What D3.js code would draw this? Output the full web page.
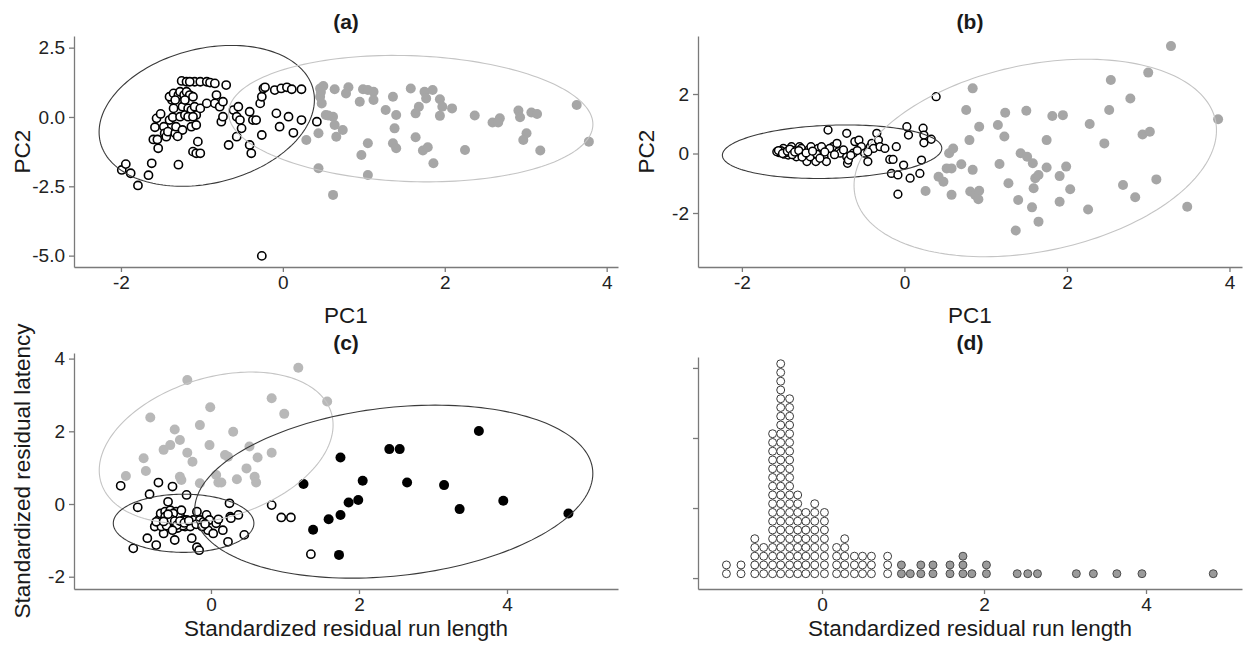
<!DOCTYPE html>
<html>
<head>
<meta charset="utf-8">
<script src="https://cdnjs.cloudflare.com/ajax/libs/d3/7.8.5/d3.min.js"></script>
<style>
  body { margin: 0; background: #fff; }
</style>
</head>
<body>
<div id="chart"></div>
<script>

// ---------------- data ----------------

// (a) PCA, open = cluster 1, grey = cluster 2
const pcaOpen = [
  [-1.99,-1.91],[-1.94,-1.70],[-1.88,-2.03],[-1.79,-2.47],[-1.66,-2.10],[-1.62,-1.67],[-1.29,-1.72],
  [-1.60,-0.81],[-1.55,-0.81],[-1.54,-1.13],[-1.58,-0.37],[-1.56,-0.05],[-1.51,0.11],[-1.47,-0.35],
  [-1.46,-0.59],[-1.44,-0.71],[-1.42,-0.53],[-1.40,-0.11],[-1.36,-0.01],[-1.33,-0.59],[-1.32,-0.35],
  [-1.35,0.31],[-1.37,0.61],[-1.40,0.73],[-1.35,0.85],[-1.29,0.79],[-1.27,0.91],[-1.25,1.30],
  [-1.22,0.79],[-1.19,0.91],[-1.15,0.79],[-1.11,0.73],[-1.09,1.27],[-1.02,1.27],[-0.94,1.27],
  [-0.90,1.24],[-0.84,1.21],[-0.70,1.15],[-1.24,0.37],[-1.21,0.61],[-1.17,0.31],[-1.13,0.25],
  [-1.09,0.37],[-1.07,0.07],[-1.02,0.31],[-1.13,-0.35],[-1.07,-0.29],[-1.05,-0.89],[-1.11,-1.25],
  [-1.07,-1.31],[-1.02,-1.31],[-0.94,0.49],[-0.84,0.49],[-0.82,0.79],[-0.78,0.37],[-0.74,0.55],
  [-0.76,-0.17],[-0.74,0.01],[-0.67,-1.01],[-0.61,0.25],[-0.57,0.01],[-0.55,0.37],[-0.53,-0.11],
  [-0.51,-0.41],[-0.57,-0.71],[-0.41,0.19],[-0.37,-0.11],[-0.33,-0.11],[-0.41,-1.01],[-0.39,-1.31],
  [-0.28,0.49],[-0.26,0.73],[-0.26,-0.65],[-0.24,1.03],[-0.22,1.07],[-0.10,0.97],[-0.02,1.03],
  [0.05,1.07],[0.11,1.00],[0.23,1.00],[-0.08,0.13],[-0.04,-0.35],[0.07,0.01],[0.13,-0.57],
  [0.23,-0.11],[0.42,-0.17],[-0.26,-5.01],[-1.27,0.01],[-1.21,0.07],[-1.17,0.01],[-1.11,0.01],
  [-1.24,-0.47],[-1.30,-0.70],[-1.33,0.61],[-1.19,1.27],[-1.15,1.27]
];
const pcaGrey = [
  [0.29,-0.83],[0.44,-1.85],[0.44,-0.59],[0.46,1.03],[0.50,1.12],[0.46,0.73],[0.48,0.49],[0.53,0.07],
  [0.62,0.01],[0.64,-0.29],[0.74,-0.47],[0.66,-0.71],[0.64,1.00],[0.78,0.85],[0.81,1.07],[0.62,-2.81],
  [0.95,0.55],[0.99,1.00],[1.05,0.97],[1.12,0.91],[1.12,0.61],[1.05,-0.95],[0.97,-1.37],[1.05,-2.09],
  [1.27,0.25],[1.36,0.73],[1.40,0.07],[1.38,-0.41],[1.36,-0.95],[1.40,-1.13],[1.58,1.03],[1.64,0.13],
  [1.68,0.37],[1.64,-0.73],[1.75,0.91],[1.77,0.67],[1.85,0.97],[1.73,-1.21],[1.79,-1.09],[1.86,-1.67],
  [1.94,0.64],[1.97,0.37],[1.94,0.04],[2.09,0.31],[2.25,-1.19],[2.37,0.05],[2.59,-0.20],[2.68,-0.05],
  [2.66,-0.20],[2.91,0.23],[2.93,-0.01],[3.01,-0.59],[2.97,-0.83],[3.07,0.16],[3.14,0.11],[3.18,-1.21],
  [3.63,0.43],[3.78,-0.89],[0.47,0.90],[0.56,0.05]
];

// (b) PCA after re-clustering
const pc2Open = [
  [-1.54,0.03],[-1.51,0.06],[-1.48,-0.02],[-1.45,0.12],[-1.43,-0.05],[-1.40,0.06],[-1.37,0.03],
  [-1.34,0.14],[-1.31,-0.02],[-1.29,0.23],[-1.25,0.06],[-1.22,-0.11],[-1.20,-0.27],[-1.18,0.12],
  [-1.15,0.23],[-1.12,-0.05],[-1.09,-0.27],[-1.06,0.17],[-1.02,0.23],[-0.99,-0.11],[-0.96,-0.27],
  [-0.94,0.79],[-0.88,0.23],[-0.83,0.34],[-0.81,0.06],[-0.79,0.01],[-0.71,0.68],[-0.71,-0.11],
  [-0.70,-0.33],[-0.69,-0.22],[-0.63,0.01],[-0.61,0.40],[-0.56,0.45],[-0.53,0.23],[-0.49,0.01],
  [-0.45,-0.27],[-0.42,0.23],[-0.40,0.34],[-0.38,0.17],[-0.34,0.68],[-0.32,0.45],[-0.30,0.23],
  [-0.24,0.17],[-0.18,-0.20],[-0.16,-0.67],[-0.14,-0.20],[-0.10,0.23],[-0.08,-1.37],[-0.08,-0.72],
  [-0.01,-0.39],[0.03,0.90],[0.05,0.62],[0.07,-0.83],[0.19,-0.67],[0.21,-0.22],[0.23,0.85],
  [0.24,0.62],[0.24,0.36],[0.33,0.48],[0.39,1.91],[-1.57,0.06],[-1.49,0.17],[-1.39,0.23],
  [-1.33,-0.11],[-1.27,0.17],[-1.16,-0.11],[-1.08,-0.02],[-1.04,-0.16],[-0.92,0.17],[-1.52,0.10],
  [-1.46,0.03],[-1.36,0.10],[-1.28,0.02],[-1.24,-0.05],[-1.55,0.10],[-1.50,0.00],[-1.44,0.08],
  [-1.41,0.15],[-1.38,-0.04],[-1.35,0.05],[-1.30,0.10],[-1.26,-0.12],[-1.21,0.02],[-1.13,0.08],
  [-0.98,0.05],[-0.86,-0.04],[-0.75,0.12],[-0.66,-0.06],[-0.58,0.10],[-0.45,0.05]
];
const pc2Grey = [
  [0.26,-1.26],[0.42,-0.78],[0.48,-0.95],[0.52,-0.50],[0.58,-0.50],[0.55,0.01],[0.60,0.17],[0.58,-1.39],
  [0.70,-0.36],[0.76,1.46],[0.80,0.45],[0.84,-0.55],[0.84,2.19],[0.81,-1.28],[0.87,-1.39],[0.92,-1.25],
  [0.91,-1.54],[0.92,0.90],[1.15,0.96],[1.17,-0.35],[1.23,0.57],[1.24,1.37],[1.28,-1.00],[1.37,-2.59],
  [1.40,-1.56],[1.43,0.01],[1.50,1.44],[1.51,-0.11],[1.57,-1.81],[1.58,-0.33],[1.59,-1.17],[1.61,-0.83],
  [1.65,-0.72],[1.65,-2.29],[1.75,0.45],[1.75,-0.47],[1.82,1.26],[1.91,-0.76],[1.91,-1.62],[1.95,1.29],
  [1.99,-0.44],[2.04,-1.20],[2.26,-1.88],[2.28,0.99],[2.46,0.34],[2.52,1.46],[2.54,2.47],[2.69,-1.06],
  [2.78,1.85],[2.84,-1.47],[2.93,0.64],[3.00,2.72],[3.02,0.73],[3.10,-0.87],[3.28,3.61],[3.48,-1.79],
  [3.86,1.15]
];

// (c) standardized residuals
const resOpen = [
  [-1.22,0.50],[-1.05,-1.22],[-0.99,-0.09],[-0.86,-0.94],[-0.83,0.27],[-0.76,-0.62],[-0.74,-1.13],
  [-0.71,0.59],[-0.70,-0.42],[-0.68,-0.26],[-0.65,-0.53],[-0.64,-0.81],[-0.62,-0.21],[-0.60,-0.44],
  [-0.58,0.06],[-0.55,-0.35],[-0.55,-0.17],[-0.53,-0.53],[-0.52,0.48],[-0.51,-0.67],[-0.50,-0.35],
  [-0.49,-0.99],[-0.47,-0.21],[-0.46,-0.49],[-0.44,-0.39],[-0.43,-0.62],[-0.42,-0.30],[-0.40,-0.53],
  [-0.37,-0.44],[-0.35,-0.62],[-0.33,0.25],[-0.33,-0.44],[-0.31,-0.53],[-0.28,-0.62],[-0.26,-0.94],
  [-0.24,-0.44],[-0.19,-0.21],[-0.19,-1.19],[-0.16,-1.27],[-0.15,-0.44],[-0.10,-0.49],[-0.06,-0.30],
  [-0.04,-0.72],[-0.02,-0.44],[0.03,-0.81],[0.07,-0.53],[0.16,-0.72],[0.23,-1.04],[0.25,0.02],
  [0.26,-0.35],[0.27,-0.39],[0.37,-0.30],[0.45,-0.85],[0.82,-0.03],[0.95,-0.37],[1.08,-0.37],
  [1.35,-1.38],[-0.62,-0.35],[-0.58,-0.58],[-0.51,-0.26],[-0.40,-0.17],[-0.67,-0.62],[-0.74,-0.49],
  [-0.56,-0.47],[-0.48,-0.56],[-0.45,-0.66],[-0.38,-0.60],[-0.60,-0.60],[-0.54,-0.42],[-0.49,-0.47],
  [-0.46,-0.58],[-0.42,-0.47],[-0.36,-0.52],[-0.30,-0.46],[-0.52,-0.72],[-0.64,-0.48],[-0.58,-0.28],
  [-0.20,-0.56],[-0.12,-0.62],[0.10,-0.42],[-0.08,-0.55]
];
const resGrey = [
  [-1.15,0.77],[-0.88,0.91],[-0.82,2.38],[-0.91,1.26],[-0.64,1.49],[-0.55,1.62],[-0.49,2.05],
  [-0.42,1.76],[-0.42,0.75],[-0.40,0.66],[-0.32,3.41],[-0.32,1.41],[-0.25,1.16],[-0.15,2.17],
  [-0.15,0.57],[-0.02,1.62],[-0.01,2.66],[0.07,0.80],[0.10,0.59],[0.14,0.59],[0.19,1.35],
  [0.30,1.99],[0.23,1.30],[0.35,0.68],[0.48,0.98],[0.52,1.58],[0.59,0.75],[0.61,0.59],
  [0.63,1.28],[0.82,2.91],[0.82,1.41],[0.99,2.48],[1.18,3.75],[1.57,2.82]
];
const resBlack = [
  [1.25,0.55],[1.38,-0.71],[1.59,-0.42],[1.75,1.28],[1.75,-0.30],[1.73,-1.40],[1.86,0.04],
  [1.99,0.11],[2.05,0.64],[2.41,1.51],[2.55,1.51],[2.65,0.59],[3.15,0.52],[3.36,-0.14],
  [3.62,2.01],[3.95,0.09],[4.83,-0.26]
];

// (d) dot plot of run length: [bin centre, dots in stack]
const dotBinsOpen = [
  [-1.18,2],[-1.00,2],[-0.83,5],[-0.72,4],[-0.61,17],[-0.51,25],[-0.40,21],[-0.30,10],[-0.20,8],
  [-0.09,9],[0.03,8],[0.18,4],[0.28,5],[0.40,3],[0.50,3],[0.61,3],[0.81,3]
];
const dotBinsGrey = [
  [0.98,2],[1.09,1],[1.22,2],[1.37,2],[1.58,2],[1.74,3],[1.85,1],[2.03,2],[2.41,1],[2.54,1],
  [2.66,1],[3.14,1],[3.35,1],[3.64,1],[3.95,1],[4.83,1]
];
const dotBinwidth = 0.108;

// 95% ellipses: centre, half extents and correlation
const ellipsesA = [
  {cx: -0.94, cy: 0.04, rx: 1.33, ry: 2.54, rho: 0.23, tone: "dark"},
  {cx: 1.58, cy: -0.06, rx: 2.25, ry: 2.28, rho: -0.09, tone: "light"}
];
const ellipsesB = [
  {cx: -0.89, cy: 0.06, rx: 1.35, ry: 0.90, rho: 0.13, tone: "dark"},
  {cx: 1.61, cy: -0.15, rx: 2.23, ry: 3.32, rho: 0.28, tone: "light"}
];
const ellipsesC = [
  {cx: 0.07, cy: 1.55, rx: 1.58, ry: 2.08, rho: 0.30, tone: "light"},
  {cx: -0.37, cy: -0.53, rx: 0.95, ry: 0.80, rho: 0.0, tone: "dark"},
  {cx: 2.47, cy: 0.34, rx: 2.69, ry: 2.38, rho: 0.21, tone: "dark"}
];

// ticks
const pcaXTicks = [-2, 0, 2, 4];
const pcaYTicks = [-5, -2.5, 0, 2.5];
const pc2YTicks = [-2, 0, 2];
const resXTicks = [0, 2, 4];
const resYTicks = [-2, 0, 2, 4];
const dotYTicks = [0, 0.25, 0.5, 0.75];

// ---------------- setup ----------------

const W = 1244, H = 646;
const font = "'Liberation Sans', Arial, Helvetica, sans-serif";

const svg = d3.select("#chart").append("svg")
    .attr("width", W)
    .attr("height", H)
    .style("font-family", font)
    .style("background", "#fff");

const intFmt = d => String(d);
const oneDec = d => d.toFixed(1);
const noLab = () => "";

function makePanel(p) {
  const x = d3.scaleLinear().domain(p.xlim).range([p.left, p.right]);
  const y = d3.scaleLinear().domain(p.ylim).range([p.bottom, p.top]);

  let gx = svg.append("g")
      .attr("transform", "translate(0," + p.bottom + ")")
      .call(d3.axisBottom(x).tickValues(p.xticks).tickFormat(intFmt)
            .tickSize(5).tickSizeOuter(0).tickPadding(4));
  let gy = svg.append("g")
      .attr("transform", "translate(" + p.left + ",0)")
      .call(d3.axisLeft(y).tickValues(p.yticks).tickFormat(p.yfmt)
            .tickSize(5).tickSizeOuter(0).tickPadding(4));

  [gx, gy].forEach(g => {
    g.select(".domain").attr("stroke", "#7a7a7a").attr("stroke-width", 1.3);
    g.selectAll(".tick line").attr("stroke", "#7a7a7a").attr("stroke-width", 1.3);
    g.selectAll(".tick text")
        .attr("fill", "#222")
        .style("font-size", "19px")
        .style("font-family", font);
  });

  // panel title
  svg.append("text")
      .attr("x", (p.left + p.right) / 2)
      .attr("y", p.titleY)
      .attr("text-anchor", "middle")
      .style("font-size", "21px")
      .style("font-weight", "bold")
      .attr("fill", "#1a1a1a")
      .text(p.title);

  if (p.xlab) {
    svg.append("text")
        .attr("x", (p.left + p.right) / 2)
        .attr("y", p.xlabY)
        .attr("text-anchor", "middle")
        .style("font-size", "22.5px")
        .attr("fill", "#1a1a1a")
        .text(p.xlab);
  }
  if (p.ylab) {
    svg.append("text")
        .attr("transform", "translate(" + p.ylabX + "," + (p.top + p.bottom) / 2 + ") rotate(-90)")
        .attr("text-anchor", "middle")
        .style("font-size", "22.5px")
        .attr("fill", "#1a1a1a")
        .text(p.ylab);
  }
  return {x, y};
}

function drawPoints(sc, data, fill, stroke, r, sw) {
  svg.append("g").selectAll("circle")
    .data(data)
    .join("circle")
      .attr("cx", d => sc.x(d[0]))
      .attr("cy", d => sc.y(d[1]))
      .attr("r", r)
      .attr("fill", fill)
      .attr("stroke", stroke)
      .attr("stroke-width", sw);
}

function drawEllipses(sc, list) {
  const ts = d3.range(0, 2 * Math.PI, Math.PI / 90);
  const line = d3.line().curve(d3.curveLinearClosed);
  list.forEach(e => {
    const s = Math.sqrt(1 - e.rho * e.rho);
    const pts = ts.map(t => [
      sc.x(e.cx + e.rx * Math.cos(t)),
      sc.y(e.cy + e.ry * (e.rho * Math.cos(t) + s * Math.sin(t)))
    ]);
    svg.append("path")
        .attr("d", line(pts))
        .attr("fill", "none")
        .attr("stroke", e.tone == "dark" ? "#3a3a3a" : "#c4c4c4")
        .attr("stroke-width", 1.1);
  });
}

// ---------------- panel (a) ----------------
let scA = makePanel({
  left: 74, right: 618, top: 36, bottom: 267,
  xlim: [-2.58, 4.14], ylim: [-5.41, 2.92],
  xticks: pcaXTicks, yticks: pcaYTicks, yfmt: oneDec,
  title: "(a)", titleY: 29,
  xlab: "PC1", xlabY: 323, ylab: "PC2", ylabX: 30
});
drawPoints(scA, pcaGrey, "#a6a6a6", "none", 5.0, 0);
drawPoints(scA, pcaOpen, "#fff", "#000", 4.1, 1.6);
drawEllipses(scA, ellipsesA);

// ---------------- panel (b) ----------------
let scB = makePanel({
  left: 698, right: 1242, top: 36, bottom: 267,
  xlim: [-2.54, 4.154], ylim: [-3.815, 3.95],
  xticks: pcaXTicks, yticks: pc2YTicks, yfmt: intFmt,
  title: "(b)", titleY: 29,
  xlab: "PC1", xlabY: 323, ylab: "PC2", ylabX: 654
});
drawPoints(scB, pc2Grey, "#a6a6a6", "none", 5.0, 0);
drawPoints(scB, pc2Open, "#fff", "#000", 3.9, 1.5);
drawEllipses(scB, ellipsesB);

// ---------------- panel (c) ----------------
let scC = makePanel({
  left: 74, right: 618, top: 353, bottom: 589,
  xlim: [-1.851, 5.50], ylim: [-2.338, 4.154],
  xticks: resXTicks, yticks: resYTicks, yfmt: intFmt,
  title: "(c)", titleY: 350,
  xlab: "Standardized residual run length", xlabY: 636,
  ylab: "Standardized residual latency", ylabX: 30
});
drawPoints(scC, resGrey, "#b8b8b8", "none", 5.0, 0);
drawPoints(scC, resOpen, "#fff", "#000", 4.1, 1.6);
drawPoints(scC, resBlack, "#000", "none", 5.0, 0);
drawEllipses(scC, ellipsesC);

// ---------------- panel (d) ----------------
let scD = makePanel({
  left: 698, right: 1242, top: 357, bottom: 589,
  xlim: [-1.531, 5.185], ylim: [-0.039, 0.789],
  xticks: resXTicks, yticks: dotYTicks, yfmt: noLab,
  title: "(d)", titleY: 350,
  xlab: "Standardized residual run length", xlabY: 636
});

const dotDiam = scD.x(dotBinwidth) - scD.x(0);
function drawDots(bins, fill, stroke) {
  const dots = [];
  bins.forEach(b => {
    for (let k = 0; k < b[1]; k++) dots.push({x: b[0], k: k});
  });
  svg.append("g").selectAll("circle")
    .data(dots)
    .join("circle")
      .attr("cx", d => scD.x(d.x))
      .attr("cy", d => scD.y(0) - (d.k + 0.5) * dotDiam)
      .attr("r", dotDiam / 2 - 0.4)
      .attr("fill", fill)
      .attr("stroke", stroke)
      .attr("stroke-width", 1);
}
drawDots(dotBinsOpen, "#fff", "#3a3a3a");
drawDots(dotBinsGrey, "#9a9a9a", "#4a4a4a");

</script>
</body>
</html>
